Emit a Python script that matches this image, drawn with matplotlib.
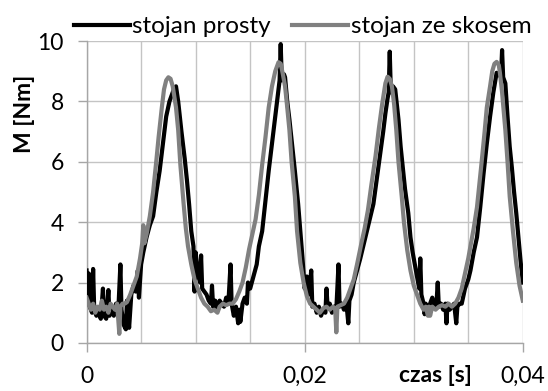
import numpy as np
import matplotlib
matplotlib.use("Agg")
from matplotlib import pyplot as plt
from matplotlib.ticker import MultipleLocator, FixedLocator

# czas [s] i moment [Nm] - stojan prosty
t_prosty = [
    0.0000, 0.0001, 0.0002, 0.0003, 0.0005, 0.0006, 0.0007, 0.0009, 0.0011, 0.0013,
    0.0015, 0.0016, 0.0018, 0.0020, 0.0021, 0.0023, 0.0025, 0.0027, 0.0029, 0.0031,
    0.0032, 0.0034, 0.0036, 0.0037, 0.0039, 0.0041, 0.0043, 0.0045, 0.0047, 0.0048,
    0.0050, 0.0052, 0.0055, 0.0058, 0.0061, 0.0064, 0.0067, 0.0070, 0.0073, 0.0076,
    0.0078, 0.0080, 0.0082, 0.0084, 0.0087, 0.0090, 0.0092, 0.0094, 0.0096, 0.0098,
    0.0099, 0.0100, 0.0102, 0.0104, 0.0105, 0.0106, 0.0108, 0.0110, 0.0112, 0.0114,
    0.0115, 0.0116, 0.0118, 0.0120, 0.0122, 0.0124, 0.0126, 0.0128, 0.0130, 0.0132,
    0.0133, 0.0135, 0.0137, 0.0139, 0.0140, 0.0141, 0.0143, 0.0145, 0.0147, 0.0148,
    0.0150, 0.0153, 0.0156, 0.0158, 0.0161, 0.0164, 0.0167, 0.0170, 0.0173, 0.0175,
    0.0177, 0.0178, 0.0179, 0.0181, 0.0182, 0.0184, 0.0186, 0.0189, 0.0191, 0.0194,
    0.0196, 0.0198, 0.0200, 0.0202, 0.0204, 0.0206, 0.0207, 0.0209, 0.0211, 0.0213,
    0.0215, 0.0217, 0.0219, 0.0220, 0.0221, 0.0223, 0.0225, 0.0227, 0.0229, 0.0231,
    0.0232, 0.0234, 0.0236, 0.0238, 0.0240, 0.0241, 0.0243, 0.0245, 0.0248, 0.0251,
    0.0255, 0.0259, 0.0263, 0.0266, 0.0269, 0.0272, 0.0274, 0.0276, 0.0277, 0.0278,
    0.0279, 0.0281, 0.0283, 0.0286, 0.0288, 0.0290, 0.0292, 0.0295, 0.0297, 0.0299,
    0.0301, 0.0303, 0.0305, 0.0306, 0.0307, 0.0309, 0.0310, 0.0311, 0.0313, 0.0315,
    0.0317, 0.0319, 0.0321, 0.0322, 0.0323, 0.0325, 0.0327, 0.0329, 0.0330, 0.0331,
    0.0333, 0.0335, 0.0337, 0.0339, 0.0340, 0.0342, 0.0344, 0.0347, 0.0350, 0.0352,
    0.0355, 0.0358, 0.0361, 0.0364, 0.0367, 0.0370, 0.0373, 0.0376, 0.0378, 0.0380,
    0.0381, 0.0382, 0.0384, 0.0386, 0.0388, 0.0390, 0.0392, 0.0394, 0.0396, 0.0398,
    0.0400,
]
m_prosty = [
    2.4, 1.6, 2.3, 1.2, 1.0, 2.45, 1.1, 0.9, 1.0, 0.8,
    1.8, 0.9, 0.8, 1.75, 0.9, 1.1, 0.9, 1.3, 1.0, 2.6,
    1.1, 0.6, 0.45, 1.4, 0.5, 1.6, 1.9, 1.7, 2.4, 1.5,
    2.6, 3.0, 3.5, 3.9, 4.2, 5.0, 5.7, 6.6, 7.5, 8.0,
    8.2, 8.4, 8.5, 8.0, 7.0, 6.1, 5.4, 4.6, 3.7, 3.2,
    1.7, 3.0, 2.3, 2.0, 2.9, 1.8, 1.7, 1.6, 1.4, 1.3,
    1.9, 1.2, 1.4, 1.1, 1.4, 1.3, 1.2, 1.5, 1.3, 2.6,
    1.3, 0.9, 1.2, 0.65, 1.1, 0.7, 1.3, 1.5, 1.3, 2.0,
    1.8, 2.2, 2.6, 3.2, 3.7, 4.7, 5.7, 6.6, 7.5, 8.1,
    8.7, 9.9, 8.7, 8.9, 8.8, 8.0, 7.4, 6.4, 5.7, 4.6,
    3.7, 2.8, 1.8, 2.2, 1.6, 2.4, 1.2, 1.3, 1.0, 1.2,
    0.9, 1.1, 1.0, 1.8, 1.2, 1.3, 1.0, 1.2, 1.1, 2.6,
    1.2, 1.3, 1.1, 1.4, 0.65, 1.4, 1.6, 2.0, 2.4, 2.8,
    3.4, 4.0, 4.6, 5.4, 6.2, 7.0, 7.6, 8.1, 8.3, 9.65,
    8.3, 8.5, 8.4, 7.4, 6.5, 5.8, 5.1, 4.3, 3.5, 3.0,
    2.6, 2.2, 1.8, 2.8, 1.6, 1.3, 0.95, 1.3, 1.1, 1.3,
    1.5, 1.2, 1.4, 2.0, 1.2, 1.3, 1.1, 1.3, 0.65, 1.3,
    1.1, 1.2, 1.3, 0.65, 1.2, 1.3, 1.3, 1.8, 2.1, 2.4,
    3.0, 3.5, 4.5, 5.6, 6.6, 7.5, 8.3, 8.95, 8.9, 8.8,
    9.7, 8.8, 8.6, 7.5, 6.5, 5.8, 5.0, 4.3, 3.5, 2.7,
    2.0,
]

# czas [s] i moment [Nm] - stojan ze skosem
t_skos = [
    0.0000, 0.0002, 0.0004, 0.0006, 0.0008, 0.0010, 0.0012, 0.0014, 0.0016, 0.0018,
    0.0020, 0.0022, 0.0024, 0.0026, 0.0028, 0.0030, 0.0031, 0.0033, 0.0035, 0.0037,
    0.0040, 0.0043, 0.0046, 0.0049, 0.0051, 0.0052, 0.0053, 0.0055, 0.0058, 0.0061,
    0.0064, 0.0066, 0.0069, 0.0071, 0.0073, 0.0075, 0.0077, 0.0079, 0.0082, 0.0084,
    0.0086, 0.0089, 0.0091, 0.0093, 0.0096, 0.0099, 0.0102, 0.0105, 0.0108, 0.0111,
    0.0114, 0.0117, 0.0120, 0.0122, 0.0125, 0.0128, 0.0131, 0.0134, 0.0137, 0.0140,
    0.0143, 0.0146, 0.0149, 0.0152, 0.0155, 0.0158, 0.0161, 0.0164, 0.0167, 0.0170,
    0.0173, 0.0176, 0.0178, 0.0180, 0.0182, 0.0184, 0.0186, 0.0188, 0.0191, 0.0193,
    0.0196, 0.0199, 0.0202, 0.0205, 0.0208, 0.0211, 0.0214, 0.0217, 0.0220, 0.0223,
    0.0226, 0.0228, 0.0229, 0.0230, 0.0233, 0.0236, 0.0239, 0.0242, 0.0245, 0.0248,
    0.0252, 0.0255, 0.0258, 0.0261, 0.0265, 0.0268, 0.0271, 0.0274, 0.0276, 0.0278,
    0.0280, 0.0282, 0.0284, 0.0286, 0.0289, 0.0291, 0.0294, 0.0297, 0.0300, 0.0303,
    0.0306, 0.0309, 0.0311, 0.0313, 0.0314, 0.0315, 0.0317, 0.0320, 0.0323, 0.0326,
    0.0329, 0.0332, 0.0335, 0.0338, 0.0341, 0.0344, 0.0347, 0.0350, 0.0352, 0.0355,
    0.0358, 0.0360, 0.0362, 0.0365, 0.0367, 0.0370, 0.0372, 0.0374, 0.0376, 0.0378,
    0.0379, 0.0381, 0.0384, 0.0386, 0.0388, 0.0391, 0.0394, 0.0397, 0.0400,
]
m_skos = [
    1.5, 1.3, 1.1, 1.3, 1.0, 1.2, 1.1, 1.4, 1.1, 1.2,
    1.0, 1.3, 1.2, 1.1, 1.3, 0.3, 1.2, 1.3, 1.3, 1.35,
    1.6, 1.9, 2.2, 2.8, 3.3, 3.9, 3.3, 3.6, 4.2, 5.0,
    6.05, 6.8, 7.8, 8.4, 8.7, 8.8, 8.75, 8.5, 7.8, 7.05,
    5.9, 4.6, 3.8, 3.2, 2.6, 2.1, 1.8, 1.5, 1.3, 1.2,
    1.05, 1.1, 1.0, 1.2, 1.3, 1.25, 1.3, 1.3, 1.45, 1.7,
    2.0, 2.5, 3.1, 3.6, 4.1, 4.9, 5.9, 6.8, 7.8, 8.5,
    9.0, 9.3, 9.25, 8.9, 8.5, 7.8, 7.05, 6.0, 4.85, 3.7,
    2.65, 2.0, 1.55, 1.3, 1.2, 1.1, 1.0, 1.15, 1.2, 1.1,
    1.2, 1.1, 0.35, 1.2, 1.25, 1.3, 1.5, 1.8, 2.1, 2.6,
    3.3, 3.8, 4.4, 5.2, 6.2, 7.1, 7.9, 8.6, 8.82, 8.75,
    8.5, 7.9, 7.05, 6.0, 4.85, 4.0, 3.08, 2.4, 1.9, 1.6,
    1.3, 1.1, 1.2, 0.9, 1.2, 0.9, 1.2, 1.1, 1.2, 1.25,
    1.2, 1.3, 1.2, 1.3, 1.5, 1.8, 2.3, 2.8, 3.2, 3.8,
    4.5, 5.2, 5.9, 7.0, 7.8, 8.5, 9.0, 9.25, 9.31, 9.2,
    8.95, 8.3, 7.05, 6.0, 4.85, 3.7, 2.65, 1.9, 1.4,
]

x_ticks = [0.0, 0.02, 0.04]
x_tick_labels = ["0", "0,02", "0,04"]

plt.rcParams["font.family"] = ["Lato", "DejaVu Sans"]
fs = 16.5

fig = plt.figure(figsize=(5.48, 3.91), dpi=100)
ax = fig.add_axes([0.158, 0.123, 0.796, 0.772])

ax.plot(t_prosty, m_prosty, color="black", lw=3, solid_joinstyle="round",
        label="stojan prosty", zorder=3)
ax.plot(t_skos, m_skos, color="#808080", lw=3, solid_joinstyle="round",
        label="stojan ze skosem", zorder=4)

ax.set_xlim(0, 0.04)
ax.set_ylim(0, 10)
ax.xaxis.set_major_locator(FixedLocator(x_ticks))
ax.set_xticklabels(x_tick_labels)
ax.xaxis.set_minor_locator(MultipleLocator(0.005))
ax.yaxis.set_major_locator(MultipleLocator(2))

grid_c = "#c4c4c4"
ax.grid(True, which="both", axis="x", color=grid_c, lw=1)
ax.grid(True, which="major", axis="y", color=grid_c, lw=1)
ax.set_axisbelow(True)

for side in ("top", "right"):
    ax.spines[side].set_visible(False)
for side in ("bottom", "left"):
    ax.spines[side].set_color("#a6a6a6")
    ax.spines[side].set_linewidth(1)

ax.tick_params(axis="both", which="major", direction="out", length=6.5,
               width=1, color="#a6a6a6", labelsize=fs, labelcolor="black")
ax.tick_params(axis="x", which="major", pad=10)
ax.tick_params(axis="x", which="minor", length=0)
ax.tick_params(axis="y", pad=10)

fig.text(0.044, 0.71, "M [Nm]", rotation=90, ha="center", va="center",
         fontsize=fs, fontweight="bold")
fig.text(0.794, 0.04, "czas [s]", ha="center", va="center",
         fontsize=fs, fontweight="bold")

fig.legend(loc="center", bbox_to_anchor=(0.552, 0.932), ncol=2, frameon=False,
           fontsize=17.5, handlelength=2.3, handletextpad=0.1, columnspacing=0.9,
           borderaxespad=0)

fig.savefig("out.png", dpi=100)
